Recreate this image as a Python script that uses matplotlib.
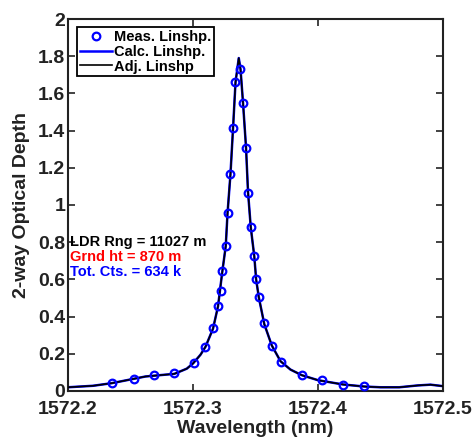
import numpy as np
import matplotlib
matplotlib.use("Agg")
import matplotlib.pyplot as plt

# measured lineshape points (nm, 2-way OD)
meas_wl = [1572.2354, 1572.2526, 1572.2686, 1572.2850, 1572.3006, 1572.3094,
           1572.3160, 1572.3200, 1572.3222, 1572.3234, 1572.3262, 1572.3276,
           1572.3298, 1572.3320, 1572.3338, 1572.3376, 1572.3398, 1572.3424,
           1572.3438, 1572.3462, 1572.3488, 1572.3504, 1572.3526, 1572.3568,
           1572.3630, 1572.3704, 1572.3870, 1572.4034, 1572.4200, 1572.4366]
meas_od = [0.045, 0.063, 0.084, 0.098, 0.153, 0.234,
           0.339, 0.457, 0.539, 0.647, 0.780, 0.955,
           1.165, 1.412, 1.661, 1.730, 1.547, 1.308,
           1.065, 0.883, 0.727, 0.601, 0.507, 0.366,
           0.244, 0.158, 0.084, 0.058, 0.034, 0.025]

# calculated / adjusted lineshape
line_wl = [1572.200, 1572.220, 1572.235, 1572.250, 1572.262, 1572.275,
           1572.285, 1572.295, 1572.300, 1572.306, 1572.310, 1572.316,
           1572.320, 1572.3234, 1572.3262, 1572.3276, 1572.330, 1572.332,
           1572.334, 1572.3366, 1572.338, 1572.340, 1572.3424, 1572.344,
           1572.3462, 1572.349, 1572.3505, 1572.3526, 1572.357, 1572.363,
           1572.370, 1572.378, 1572.387, 1572.400, 1572.420, 1572.437,
           1572.450, 1572.465, 1572.480, 1572.490, 1572.500]
calc_od = [0.020, 0.028, 0.042, 0.062, 0.078, 0.086,
           0.092, 0.120, 0.148, 0.195, 0.238, 0.335,
           0.455, 0.640, 0.780, 0.955, 1.170, 1.410,
           1.660, 1.790, 1.730, 1.550, 1.310, 1.070,
           0.880, 0.725, 0.600, 0.505, 0.360, 0.245,
           0.160, 0.115, 0.085, 0.058, 0.035, 0.024,
           0.020, 0.020, 0.030, 0.034, 0.026]
adj_od = [0.020, 0.028, 0.042, 0.062, 0.078, 0.086,
          0.092, 0.120, 0.148, 0.195, 0.238, 0.335,
          0.455, 0.640, 0.780, 0.955, 1.170, 1.410,
          1.660, 1.790, 1.730, 1.550, 1.310, 1.070,
          0.880, 0.725, 0.600, 0.505, 0.360, 0.245,
          0.160, 0.115, 0.085, 0.058, 0.035, 0.024,
          0.020, 0.020, 0.030, 0.034, 0.026]

info_txt = ["LDR Rng = 11027 m", "Grnd ht = 870 m", "Tot. Cts. = 634 k"]
info_col = ["black", "red", "blue"]

plt.rcParams['font.family'] = ['Liberation Sans', 'DejaVu Sans']
plt.rcParams['font.weight'] = 'bold'

fig = plt.figure(figsize=(4.76, 4.41), dpi=100)
ax = fig.add_axes([0.1429, 0.1134, 0.7878, 0.8435])

ax.plot(meas_wl, meas_od, 'o', mfc='none', mec='blue', mew=1.6, ms=5.5,
        label='Meas. Linshp.', zorder=4)
ax.plot(line_wl, calc_od, '-', color='blue', lw=1.8, label='Calc. Linshp.', zorder=2)
ax.plot(line_wl, adj_od, '-', color='black', lw=1.2, label='Adj. Linshp', zorder=3)

ax.set_xlim(1572.2, 1572.5)
ax.set_ylim(0, 2)
ax.set_xticks([1572.2, 1572.3, 1572.4, 1572.5])
ax.set_xticklabels(['1572.2', '1572.3', '1572.4', '1572.5'])
ax.set_yticks(np.arange(0, 2.01, 0.2))
ax.set_yticklabels(['%g' % round(v, 1) for v in np.arange(0, 2.01, 0.2)])
ax.tick_params(direction='in', length=5, width=1.2, top=True, right=True,
               labelsize=14, colors='#222222', pad=2)
ax.tick_params(axis='x', pad=7)
for s in ax.spines.values():
    s.set_linewidth(1.5)
    s.set_color('#222222')

ax.set_xlabel('Wavelength (nm)', fontsize=14, fontweight='bold', color='#222222', labelpad=2)
ax.set_ylabel('2-way Optical Depth', fontsize=14, fontweight='bold', color='#222222', labelpad=6)

leg = ax.legend(loc='upper left', bbox_to_anchor=(0.025, 0.978), borderaxespad=0,
                fontsize=10.5, handlelength=2.2, handletextpad=0.1, labelspacing=0.05,
                borderpad=0.2, fancybox=False, framealpha=1, edgecolor='black')
leg.get_frame().set_linewidth(1.3)

for i, (t, c) in enumerate(zip(info_txt, info_col)):
    ax.text(0.006, 0.40 - i * 0.04, t, color=c, fontsize=10.5, fontweight='bold',
            transform=ax.transAxes, va='center', ha='left')

fig.savefig('out.png', dpi=100)
